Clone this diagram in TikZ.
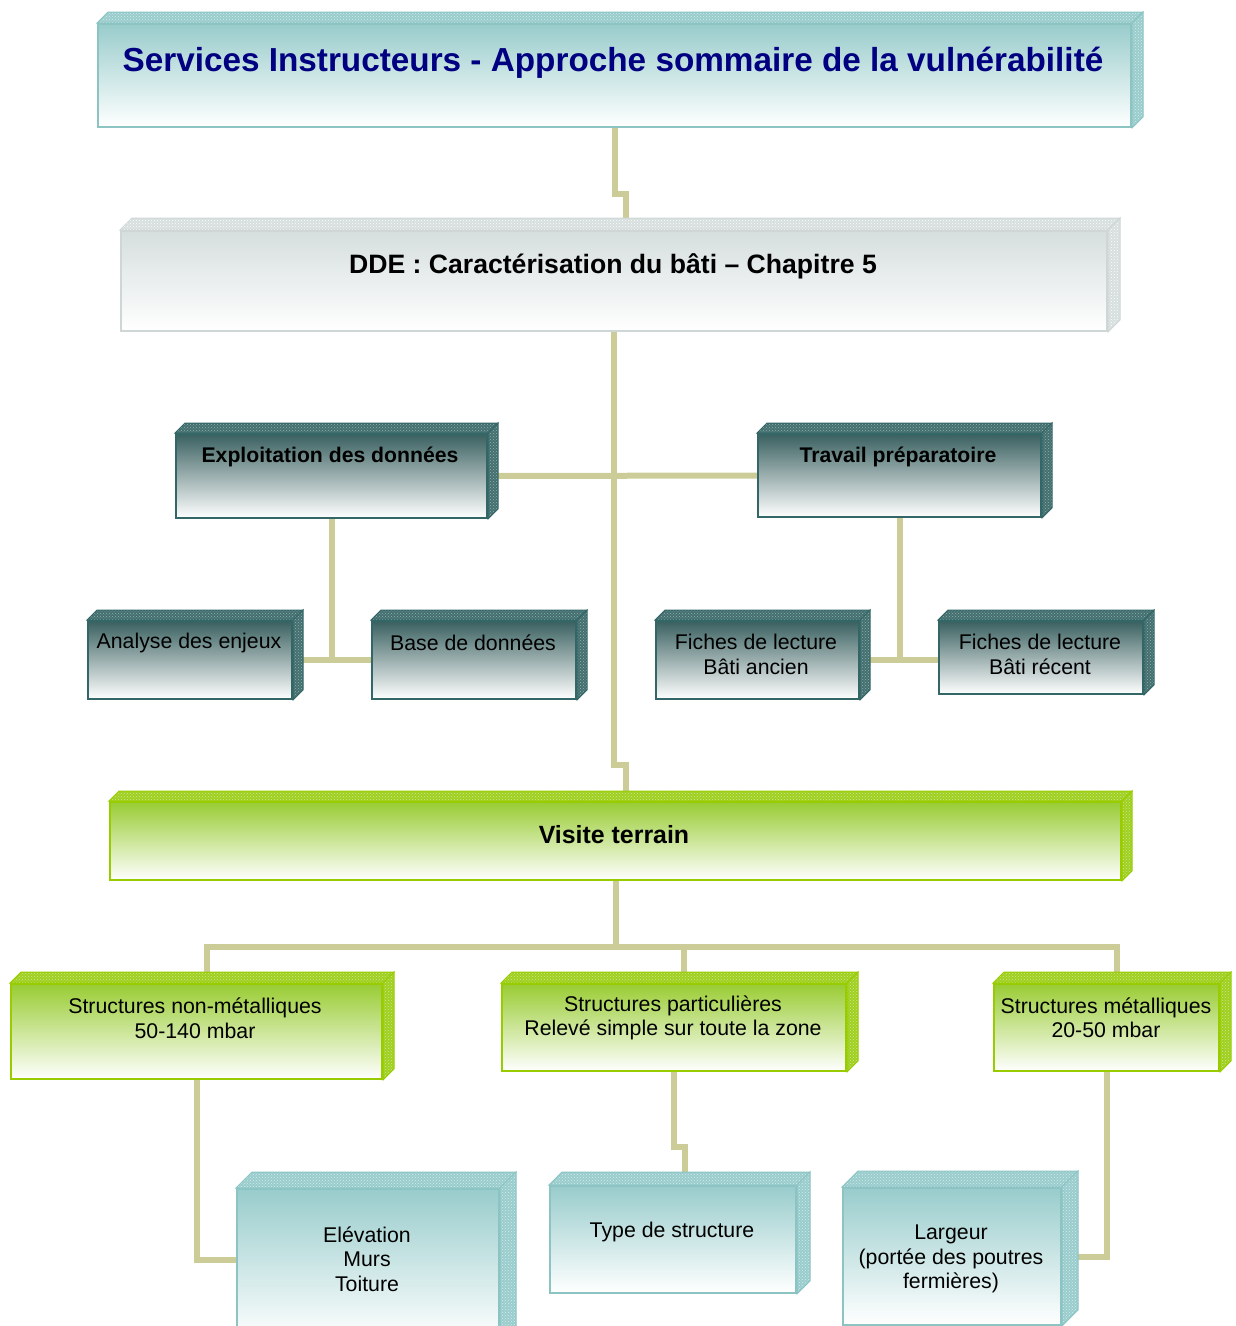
\documentclass[tikz,border=0pt]{standalone}
\usepackage{fontspec}
\setmainfont{Liberation Sans}
\definecolor{mTeal}{RGB}{153,204,204}
\definecolor{mTealEdge}{RGB}{140,196,196}
\definecolor{mSlate}{RGB}{58,96,96}
\definecolor{mSlateEdge}{RGB}{51,102,102}
\definecolor{mSlateFace}{RGB}{70,110,110}
\definecolor{mGrey}{RGB}{214,222,222}
\definecolor{mGreyEdge}{RGB}{206,214,214}
\definecolor{mGreen}{RGB}{153,204,51}
\definecolor{mGreenEdge}{RGB}{153,204,0}
\definecolor{mGreenFace}{RGB}{160,208,30}
\definecolor{mKhaki}{RGB}{204,204,153}
\definecolor{mNavy}{RGB}{0,0,128}
\usepackage{tikz}
\usetikzlibrary{positioning,backgrounds,patterns}

\newcommand\cubefaces[5]{%
    \draw[draw=#3, line width=1pt, preaction={fill=#4}, pattern=crosshatch dots, pattern color=#5]
        (#1.north west) -- ++(#2,-#2) -- ([shift={(#2,-#2)}]#1.north east) -- (#1.north east) -- cycle;
    \draw[draw=#3, line width=1pt, preaction={fill=#4}, pattern=crosshatch dots, pattern color=#5]
        (#1.north east) -- ([shift={(#2,-#2)}]#1.north east) -- ([shift={(#2,-#2)}]#1.south east) -- (#1.south east) -- cycle;
}

\tikzset{
    cube/.style={rectangle, line width=2pt, inner sep=0pt, anchor=north west},
    dims/.style 2 args={minimum width=#1pt, minimum height=#2pt},
    tealcube/.style={cube, draw=mTealEdge, top color=mTeal, bottom color=white},
    greycube/.style={cube, draw=mGreyEdge, top color=mGrey, bottom color=white},
    slatecube/.style={cube, draw=mSlateEdge, top color=mSlate, bottom color=white},
    greencube/.style={cube, draw=mGreenEdge, top color=mGreen, bottom color=white},
    link/.style={draw=mKhaki, line width=6pt},
    txt/.style={inner sep=0pt, align=center, font=\fontsize{21.3}{24.5}\selectfont},
    headtxt/.style={txt, font=\bfseries\fontsize{21.2}{24.5}\selectfont},
}

\begin{document}
\begin{tikzpicture}[x=1pt, y=-1pt]
    \useasboundingbox (0,0) rectangle (1235,1326);
    \clip (0,0) rectangle (1235,1326);

    \node[tealcube, dims={1033}{103}] (title) at (97,23) {};
    \node[greycube, dims={986}{100}] (dde) at (120,230) {};
    \node[slatecube, dims={311}{84}] (exploit) at (175,433) {};
    \node[slatecube, dims={283}{83}] (travail) at (757,433) {};
    \node[slatecube, dims={204}{78}] (analyse) at (87,620) {};
    \node[slatecube, dims={204}{78}] (base) at (371,620) {};
    \node[slatecube, dims={203}{78}] (fancien) at (655,620) {};
    \node[slatecube, dims={204}{73}] (frecent) at (938,620) {};
    \node[greencube, dims={1011}{78}] (visite) at (109,801) {};
    \node[greencube, dims={371}{95}] (nonmet) at (10,983) {};
    \node[greencube, dims={344}{87}] (partic) at (501,983) {};
    \node[greencube, dims={225}{87}] (metal) at (993,983) {};
    \node[tealcube, dims={262}{152}] (elev) at (236,1188) {};
    \node[tealcube, dims={246}{107}] (type) at (549,1185) {};
    \node[tealcube, dims={218}{137}] (largeur) at (842,1187) {};

    \cubefaces{title}{11}{mTealEdge}{mTeal}{white!60!mTeal}
    \cubefaces{dde}{12}{mGreyEdge}{mGrey}{white}
    \cubefaces{exploit}{10}{mSlateEdge}{mSlateFace}{mTeal!80!mSlate}
    \cubefaces{travail}{10}{mSlateEdge}{mSlateFace}{mTeal!80!mSlate}
    \cubefaces{analyse}{10}{mSlateEdge}{mSlateFace}{mTeal!80!mSlate}
    \cubefaces{base}{10}{mSlateEdge}{mSlateFace}{mTeal!80!mSlate}
    \cubefaces{fancien}{10}{mSlateEdge}{mSlateFace}{mTeal!80!mSlate}
    \cubefaces{frecent}{10}{mSlateEdge}{mSlateFace}{mTeal!80!mSlate}
    \cubefaces{visite}{10}{mGreenEdge}{mGreenFace}{white!50!mGreen}
    \cubefaces{nonmet}{11}{mGreenEdge}{mGreenFace}{white!50!mGreen}
    \cubefaces{partic}{11}{mGreenEdge}{mGreenFace}{white!50!mGreen}
    \cubefaces{metal}{11}{mGreenEdge}{mGreenFace}{white!50!mGreen}
    \cubefaces{elev}{16}{mTealEdge}{mTeal}{white!60!mTeal}
    \cubefaces{type}{13}{mTealEdge}{mTeal}{white!60!mTeal}
    \cubefaces{largeur}{16}{mTealEdge}{mTeal}{white!60!mTeal}

    \node[txt, text=mNavy, font=\bfseries\fontsize{33.3}{38}\selectfont] (titlelabel) at (613,63)
        {Services Instructeurs - Approche sommaire de la vulnérabilité};
    \node[txt, font=\bfseries\fontsize{26.6}{30}\selectfont] (ddelabel) at (613,266)
        {DDE : Caractérisation du bâti – Chapitre 5};
    \node[headtxt] (exploitlabel) at (330,457) {Exploitation des données};
    \node[headtxt] (travaillabel) at (898,457) {Travail préparatoire};
    \node[txt] (analyselabel) at (189,643) {Analyse des enjeux};
    \node[txt] (baselabel) at (473,643) {Base de données};
    \node[txt] (fancienlabel) at (756,654.5) {Fiches de lecture\\Bâti ancien};
    \node[txt] (frecentlabel) at (1040,654.5) {Fiches de lecture\\Bâti récent};
    \node[txt, font=\bfseries\fontsize{24.9}{28}\selectfont] (visitelabel) at (614,835) {Visite terrain};
    \node[txt] (nonmetlabel) at (195,1018) {Structures non-métalliques\\50-140 mbar};
    \node[txt] (particlabel) at (673,1018) {Structures particulières\\Relevé simple sur toute la zone};
    \node[txt] (metallabel) at (1106,1017.5) {Structures métalliques\\20-50 mbar};
    \node[txt] (elevlabel) at (367,1259) {Elévation\\Murs\\Toiture};
    \node[txt] (typelabel) at (672,1232) {Type de structure};
    \node[txt] (largeurlabel) at (951,1259) {Largeur\\(portée des poutres\\fermières)};

    \begin{scope}[on background layer]
        \draw[link] (title.south) -- ++(0,66) -| ([xshift=12pt]dde.north);
        \draw[link] (dde.south) -- ++(0,433) -| ([xshift=10pt]visite.north);
        \draw[link] (exploit.east) -- (travail.west);
        \draw[link] (exploit.south) -- (exploit.south |- analyse.east);
        \draw[link] (analyse.east) -- (base.west);
        \draw[link] (travail.south) -- (travail.south |- fancien.east);
        \draw[link] (fancien.east) -- (fancien.east -| frecent.west);
        \draw[link] (visite.south) -- ++(0,66) coordinate (bus);
        \draw[link] ([xshift=10pt]nonmet.north) |- (bus) -| ([xshift=10pt]metal.north);
        \coordinate (pdrop) at ([xshift=10pt]partic.north);
        \draw[link] (pdrop) -- (pdrop |- bus);
        \draw[link] (nonmet.south) |- ([yshift=5pt]elev.west);
        \draw[link] (partic.south) -- ++(0,75) -| ([xshift=12pt]type.north);
        \draw[link] (metal.south) |- (largeur.east);
    \end{scope}
\end{tikzpicture}
\end{document}
